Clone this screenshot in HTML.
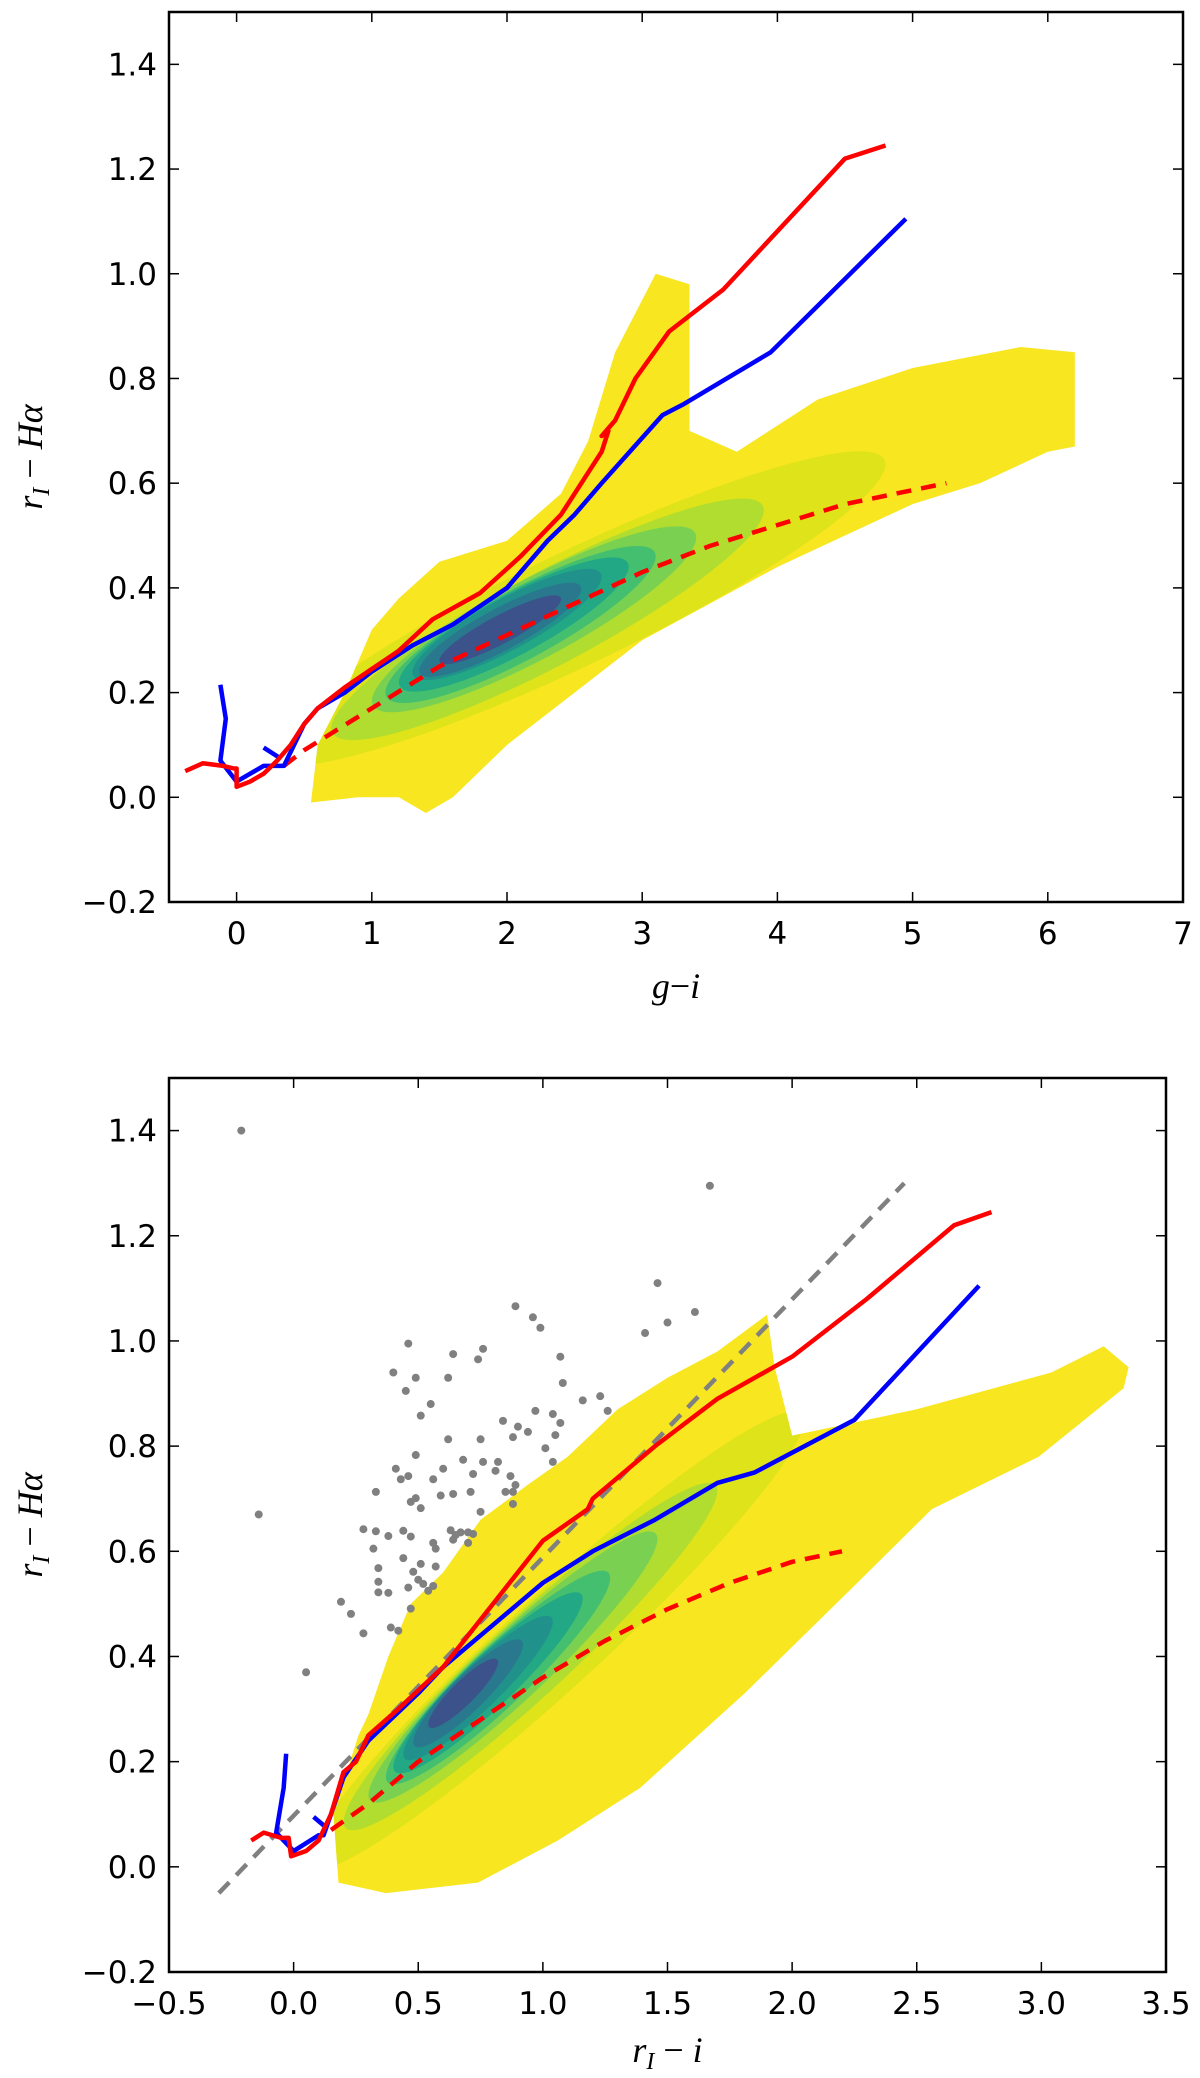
<!DOCTYPE html>
<html><head><meta charset="utf-8">
<style>
html,body{margin:0;padding:0;background:#fff;}
svg{display:block;}
text{font-family:"DejaVu Sans","Liberation Sans",sans-serif;}
.math{font-family:"Liberation Serif","DejaVu Serif",serif;font-style:italic;}
</style></head>
<body>
<svg id="fig" width="1200" height="2078" viewBox="0 0 1200 2078" xmlns="http://www.w3.org/2000/svg"></svg>
<script>
// ---------- data (top panel: g-i vs r_I-Halpha) ----------
const topRedX = [-0.38,-0.25,-0.1,-0.02,0.0,0.0,0.1,0.2,0.3,0.4,0.5,0.6,0.8,1.0,1.2,1.45,1.8,2.1,2.4,2.6,2.7,2.75,2.7,2.8,2.95,3.2,3.6,4.5,4.8];
const topRedY = [0.05,0.065,0.06,0.055,0.055,0.02,0.03,0.045,0.07,0.1,0.14,0.17,0.21,0.245,0.28,0.34,0.39,0.46,0.54,0.62,0.66,0.7,0.69,0.72,0.80,0.89,0.97,1.22,1.245];
const topBlueX = [-0.12,-0.08,-0.12,0.0,0.2,0.35,0.5,0.6,0.8,1.0,1.3,1.6,2.0,2.3,2.5,2.7,3.15,3.3,3.95,4.95];
const topBlueY = [0.215,0.15,0.07,0.03,0.06,0.06,0.14,0.17,0.2,0.24,0.29,0.33,0.4,0.49,0.54,0.6,0.73,0.75,0.85,1.105];
const topBlueHookX = [0.2,0.32];
const topBlueHookY = [0.095,0.075];
const topDashX = [0.35,0.5,1.0,1.5,2.0,2.5,3.0,3.5,4.0,4.5,5.25];
const topDashY = [0.06,0.09,0.17,0.25,0.31,0.37,0.43,0.48,0.52,0.56,0.60];
const topCloudX = [0.55,0.6,0.8,1.0,1.2,1.5,2.0,2.4,2.6,2.8,3.1,3.35,3.35,3.7,4.3,5.0,5.8,6.2,6.2,6.0,5.5,5.0,4.5,4.0,3.5,3.0,2.5,2.0,1.6,1.4,1.2,0.9];
const topCloudY = [-0.01,0.1,0.2,0.32,0.38,0.45,0.49,0.58,0.68,0.85,1.0,0.98,0.70,0.66,0.76,0.82,0.86,0.85,0.67,0.66,0.6,0.56,0.5,0.44,0.37,0.3,0.2,0.1,0.0,-0.03,0.0,0.0];
const topLevCx = [2.5,2.3,2.2,2.1,2.05,2.0,1.95,1.95];
const topLevCy = [0.36,0.34,0.34,0.33,0.33,0.33,0.32,0.32];
const topLevDx = [2.3,1.6,1.2,1.0,0.85,0.7,0.6,0.45];
const topLevSl = [0.12,0.13,0.13,0.13,0.13,0.13,0.13,0.13];
const topLevDy = [0.12,0.10,0.085,0.075,0.065,0.055,0.045,0.03];
const topXTicks = [0,1,2,3,4,5,6,7];
const topXTickLabels = ["0","1","2","3","4","5","6","7"];
const yTicks = [-0.2,0.0,0.2,0.4,0.6,0.8,1.0,1.2,1.4];
const yTickLabels = ["\u22120.2","0.0","0.2","0.4","0.6","0.8","1.0","1.2","1.4"];

// ---------- data (bottom panel: r_I-i vs r_I-Halpha) ----------
const botRedX = [-0.17,-0.12,-0.05,-0.02,-0.01,0.05,0.1,0.15,0.2,0.25,0.3,0.42,0.6,0.8,1.0,1.18,1.2,1.45,1.7,2.0,2.3,2.65,2.8];
const botRedY = [0.05,0.065,0.055,0.055,0.02,0.03,0.05,0.1,0.18,0.2,0.25,0.3,0.38,0.5,0.62,0.68,0.7,0.8,0.89,0.97,1.08,1.22,1.245];
const botBlueX = [-0.03,-0.04,-0.07,0.0,0.1,0.12,0.15,0.2,0.3,0.5,0.6,0.8,1.0,1.2,1.45,1.7,1.85,2.25,2.75];
const botBlueY = [0.215,0.15,0.065,0.03,0.06,0.06,0.1,0.17,0.24,0.33,0.38,0.46,0.54,0.6,0.66,0.73,0.75,0.85,1.105];
const botBlueHookX = [0.08,0.13];
const botBlueHookY = [0.095,0.075];
const botDashX = [0.15,0.3,0.5,0.75,1.0,1.25,1.5,1.75,2.0,2.2];
const botDashY = [0.07,0.12,0.2,0.28,0.36,0.43,0.49,0.54,0.58,0.6];
const botGrayX = [-0.3,2.45];
const botGrayY = [-0.05,1.3];
const botCloudX = [0.16,0.26,0.3,0.38,0.47,0.6,0.75,0.95,1.1,1.3,1.5,1.7,1.9,1.93,2.0,2.5,3.04,3.25,3.35,3.33,2.99,2.56,2.24,1.81,1.39,1.06,0.74,0.37,0.18];
const botCloudY = [0.1,0.25,0.29,0.4,0.5,0.56,0.66,0.73,0.78,0.87,0.93,0.98,1.05,0.95,0.82,0.87,0.94,0.99,0.95,0.91,0.78,0.68,0.53,0.33,0.15,0.05,-0.03,-0.05,-0.03];
const botLevCx = [1.05,0.95,0.88,0.82,0.78,0.74,0.7,0.68];
const botLevCy = [0.43,0.4,0.38,0.36,0.35,0.34,0.33,0.33];
const botLevDx = [1.0,0.75,0.58,0.45,0.38,0.3,0.22,0.14];
const botLevSl = [0.42,0.42,0.42,0.42,0.42,0.42,0.42,0.42];
const botLevDy = [0.12,0.1,0.085,0.075,0.065,0.055,0.045,0.03];
const botDotsX = [-0.21,-0.14,0.05,1.67,1.46,1.61,1.50,1.41,0.89,0.96,0.99,0.46,0.64,0.76,0.74,1.07,0.40,0.49,0.62,0.45,1.08,0.55,1.16,1.23,1.26,0.51,0.97,1.04,1.07,0.84,0.90,0.94,0.88,1.05,0.62,0.75,1.01,0.49,0.68,0.76,0.82,1.04,0.41,0.60,0.81,0.46,0.43,0.56,0.72,0.87,0.89,0.33,0.59,0.64,0.71,0.85,0.88,0.47,0.49,0.51,0.75,0.88,0.28,0.33,0.38,0.44,0.47,0.63,0.65,0.67,0.70,0.72,0.64,0.70,0.56,0.57,0.32,0.44,0.51,0.57,0.48,0.34,0.50,0.52,0.34,0.46,0.56,0.54,0.34,0.38,0.19,0.23,0.47,0.39,0.42,0.28];
const botDotsY = [1.40,0.67,0.37,1.295,1.11,1.055,1.035,1.015,1.066,1.045,1.025,0.995,0.975,0.985,0.965,0.97,0.94,0.93,0.93,0.905,0.92,0.88,0.887,0.895,0.867,0.858,0.867,0.861,0.844,0.848,0.837,0.827,0.817,0.821,0.813,0.813,0.796,0.783,0.774,0.77,0.77,0.77,0.757,0.757,0.753,0.743,0.737,0.737,0.747,0.743,0.726,0.713,0.706,0.709,0.713,0.713,0.713,0.694,0.701,0.682,0.675,0.69,0.642,0.638,0.629,0.639,0.628,0.64,0.631,0.636,0.636,0.633,0.622,0.616,0.616,0.605,0.605,0.587,0.576,0.571,0.561,0.568,0.546,0.538,0.542,0.531,0.534,0.525,0.522,0.521,0.504,0.481,0.491,0.455,0.449,0.444];
const botXTicks = [-0.5,0.0,0.5,1.0,1.5,2.0,2.5,3.0,3.5];
const botXTickLabels = ["\u22120.5","0.0","0.5","1.0","1.5","2.0","2.5","3.0","3.5"];
const levColors = ["#dfe319","#b0dd2f","#7ad151","#44bf70","#22a884","#21918c","#2a788e","#3b528b","#482878"];
const cloudColor = "#f8e621";

const NS = "http://www.w3.org/2000/svg";
const svg = document.getElementById('fig');
function el(tag, attrs, parent){const e=document.createElementNS(NS,tag);for(const k in attrs)e.setAttribute(k,attrs[k]);(parent||svg).appendChild(e);return e;}

function panel(cfg){
  const g = el('g',{});
  
  
  const sx = v => cfg.L + (v-cfg.x0)/(cfg.x1-cfg.x0)*(cfg.R-cfg.L);
  const sy = v => cfg.B - (v-cfg.y0)/(cfg.y1-cfg.y0)*(cfg.B-cfg.T);
  const clipId = cfg.name+'-clip';
  const cloudClipId = cfg.name+'-cloudclip';
  const cloudPts = cfg.cloudX.map((x,i)=>sx(x)+','+sy(cfg.cloudY[i])).join(' ');
  const defs = el('defs',{},g);
  const cp = el('clipPath',{id:clipId},defs);
  el('rect',{x:cfg.L,y:cfg.T,width:cfg.R-cfg.L,height:cfg.B-cfg.T},cp);
  const cc = el('clipPath',{id:cloudClipId},defs);
  el('polygon',{points:cloudPts},cc);
  const plot = el('g',{'clip-path':'url(#'+clipId+')'},g);
  const cloud = el('polygon',{points:cloudPts,fill:cloudColor},plot);
  
  
  const lev = el('g',{'clip-path':'url(#'+cloudClipId+')'},plot);
  for(let k=0;k<cfg.cx.length;k++){
    const pts=[];
    for(let t=0;t<72;t++){
      const a=t/72*2*Math.PI;
      const dx=cfg.dx[k]*Math.cos(a);
      pts.push(sx(cfg.cx[k]+dx)+','+sy(cfg.cy[k]+cfg.sl[k]*dx+cfg.dy[k]*Math.sin(a)));
    }
    const p = el('polygon',{points:pts.join(' '),fill:levColors[k]},lev);
    
    
  }
  if(cfg.dotsX){
    for(let i=0;i<cfg.dotsX.length;i++){
      const c = el('circle',{cx:sx(cfg.dotsX[i]),cy:sy(cfg.dotsY[i]),r:4,fill:'#808080'},plot);
      
      
    }
  }
  function line(xs,ys,name,stroke,w,dash){
    const p = el('polyline',{points:xs.map((x,i)=>sx(x)+','+sy(ys[i])).join(' '),fill:'none',stroke:stroke,'stroke-width':w,'stroke-linejoin':'round'},plot);
    if(dash)p.setAttribute('stroke-dasharray',dash);
    
    
  }
  if(cfg.grayX) line(cfg.grayX,cfg.grayY,'gray-dashed-line','#808080',4.5,'15 10');
  line(cfg.dashX,cfg.dashY,'red-dashed-line','#ff0000',4.5,'15 10');
  line(cfg.blueX,cfg.blueY,'blue-track','#0000ff',4.5);
  line(cfg.hookX,cfg.hookY,'blue-track-hook','#0000ff',4.5);
  line(cfg.redX,cfg.redY,'red-track','#ff0000',4.5);
  const fr = el('rect',{x:cfg.L,y:cfg.T,width:cfg.R-cfg.L,height:cfg.B-cfg.T,fill:'none',stroke:'#000','stroke-width':2.5},g);
  
  
  cfg.xt.forEach((v,i)=>{
    const X=sx(v);
    el('line',{x1:X,x2:X,y1:cfg.B,y2:cfg.B-10,stroke:'#000','stroke-width':1.5},g);
    el('line',{x1:X,x2:X,y1:cfg.T,y2:cfg.T+10,stroke:'#000','stroke-width':1.5},g);
    const t=el('text',{x:X,y:cfg.B+42,'font-size':31,'text-anchor':'middle'},g);
    t.textContent=cfg.xtl[i];
    
    
  });
  yTicks.forEach((v,i)=>{
    const Y=sy(v);
    el('line',{x1:cfg.L,x2:cfg.L+10,y1:Y,y2:Y,stroke:'#000','stroke-width':1.5},g);
    el('line',{x1:cfg.R,x2:cfg.R-10,y1:Y,y2:Y,stroke:'#000','stroke-width':1.5},g);
    const t=el('text',{x:cfg.L-12,y:Y+11,'font-size':31,'text-anchor':'end'},g);
    t.textContent=yTickLabels[i];
    
    
  });
  const xl=el('text',{x:(cfg.L+cfg.R)/2,y:cfg.xlY,'font-size':36,'text-anchor':'middle',class:'math'},g);
  xl.innerHTML=cfg.xlabel;
  
  
  const yc=(cfg.T+cfg.B)/2;
  const yl=el('text',{x:0,y:0,'font-size':36,'text-anchor':'middle',class:'math',transform:'translate(42,'+yc+') rotate(-90)'},g);
  yl.innerHTML='r<tspan font-size="24" dy="7">I</tspan><tspan dy="-7" font-style="normal"> \u2212 </tspan>H\u03b1';
  
  
}

panel({name:'top-panel',L:169,R:1183,T:12,B:902,x0:-0.5,x1:7,y0:-0.2,y1:1.5,
  cloudX:topCloudX,cloudY:topCloudY,cx:topLevCx,cy:topLevCy,dx:topLevDx,sl:topLevSl,dy:topLevDy,
  redX:topRedX,redY:topRedY,blueX:topBlueX,blueY:topBlueY,hookX:topBlueHookX,hookY:topBlueHookY,dashX:topDashX,dashY:topDashY,
  xt:topXTicks,xtl:topXTickLabels,xlY:998,xlabel:'g<tspan font-style="normal">\u2212</tspan>i'});
panel({name:'bottom-panel',L:169,R:1166,T:1078,B:1972,x0:-0.5,x1:3.5,y0:-0.2,y1:1.5,
  cloudX:botCloudX,cloudY:botCloudY,cx:botLevCx,cy:botLevCy,dx:botLevDx,sl:botLevSl,dy:botLevDy,
  dotsX:botDotsX,dotsY:botDotsY,grayX:botGrayX,grayY:botGrayY,
  redX:botRedX,redY:botRedY,blueX:botBlueX,blueY:botBlueY,hookX:botBlueHookX,hookY:botBlueHookY,dashX:botDashX,dashY:botDashY,
  xt:botXTicks,xtl:botXTickLabels,xlY:2062,xlabel:'r<tspan font-size="24" dy="7">I</tspan><tspan dy="-7" font-style="normal"> \u2212 </tspan>i'});
</script>
</body></html>
